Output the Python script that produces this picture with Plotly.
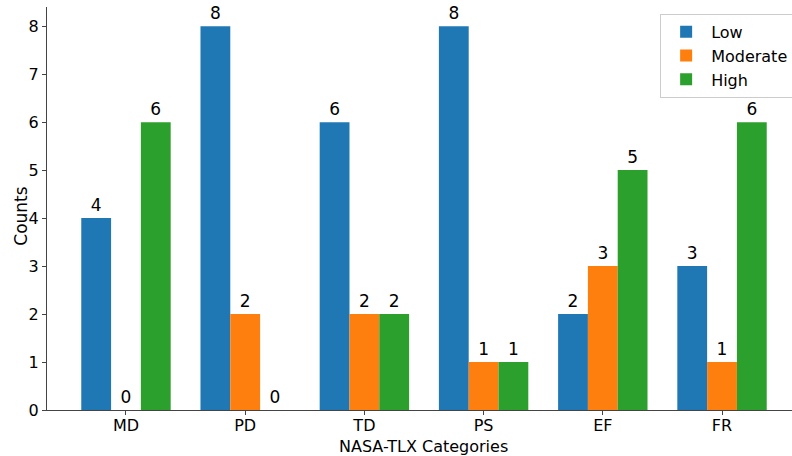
import plotly.graph_objects as go

categories = ["MD", "PD", "TD", "PS", "EF", "FR"]
low = [4, 8, 6, 8, 2, 3]
moderate = [0, 2, 2, 1, 3, 1]
high = [6, 0, 2, 1, 5, 6]
series_names = ["Low", "Moderate", "High"]
colors = ["#1f77b4", "#ff7f0e", "#2ca02c"]
x_title = "NASA-TLX Categories"
y_title = "Counts"

fig = go.Figure()
for name, vals, col in zip(series_names, [low, moderate, high], colors):
    fig.add_trace(go.Bar(
        x=list(range(len(categories))), y=vals, name=name,
        marker=dict(color=col, line=dict(width=0)),
        text=[str(v) for v in vals], textposition="outside",
        textfont=dict(size=17, color="black"), cliponaxis=False,
    ))

fig.update_layout(
    width=792, height=456,
    margin=dict(l=47, r=0, t=7, b=46, autoexpand=False),
    plot_bgcolor="white", paper_bgcolor="white",
    font=dict(family="DejaVu Sans", size=16, color="black"),
    barmode="group", bargap=0.25, bargroupgap=0,
    showlegend=True,
    legend=dict(x=0.823, y=0.983, xanchor="left", yanchor="top",
                bgcolor="rgba(255,255,255,0.8)", bordercolor="#cccccc", borderwidth=1,
                font=dict(size=16), itemwidth=40, tracegroupgap=0),
    xaxis=dict(
        tickmode="array", tickvals=list(range(len(categories))), ticktext=categories,
        range=[-0.6625, 5.587], showgrid=False, zeroline=False, automargin=False,
        showline=True, linecolor="#444", linewidth=1, ticklabelstandoff=-3,
        ticks="outside", ticklen=4, tickcolor="#444", tickfont=dict(size=16),
    ),
    yaxis=dict(
        range=[0, 8.4], dtick=1, showgrid=False, zeroline=False, automargin=False,
        showline=True, linecolor="#444", linewidth=1,
        ticks="outside", ticklen=4, tickcolor="#444", tickfont=dict(size=16),
    ),
    annotations=[
        dict(text=x_title, xref="paper", yref="paper", x=0.505, y=-0.09,
             xanchor="center", yanchor="middle", showarrow=False, font=dict(size=16),
             borderpad=0),
        dict(text=y_title, xref="paper", yref="paper", x=-0.036, y=0.48, textangle=-90,
             xanchor="center", yanchor="middle", showarrow=False, font=dict(size=17)),
    ],
)

fig.write_html(
    "out.html",
    config={"displayModeBar": False},
    post_script="document.body.style.margin='0';document.body.style.padding='0';document.body.style.overflow='hidden';",
)
